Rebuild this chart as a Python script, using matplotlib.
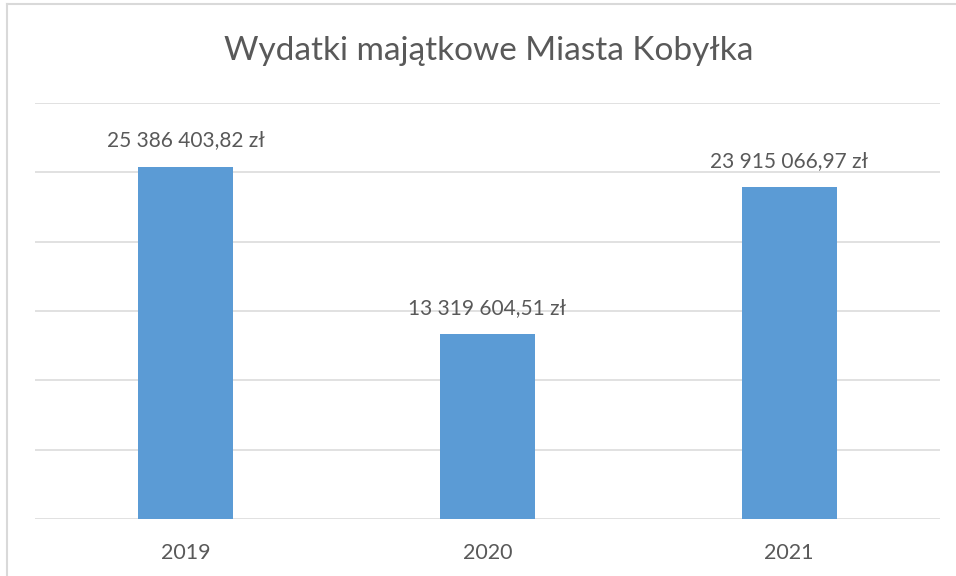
import matplotlib
matplotlib.use("Agg")
import matplotlib.pyplot as plt
from matplotlib.lines import Line2D

years = ["2019", "2020", "2021"]
values = [25386403.82, 13319604.51, 23915066.97]

def fmt_pl(v):
    s = f"{v:,.2f}"
    return s.replace(",", " ").replace(".", ",") + " zł"

plt.rcParams['font.family'] = ['Lato', 'DejaVu Sans']
text_color = "#595959"

fig = plt.figure(figsize=(9.56, 5.76), dpi=100)
W, H = 956, 576
ax = fig.add_axes([35 / W, (H - 519) / H, (940 - 35) / W, (519 - 103) / H])

x = list(range(len(years)))
bars = ax.bar(x, values, width=0.315, color="#5b9bd5", zorder=3)
ax.set_xlim(-0.5, 2.5)
ax.set_ylim(0, 30_000_000)
ax.set_yticks([i * 5_000_000 for i in range(7)])
ax.yaxis.grid(True, color="#d9d9d9", linewidth=1.1, zorder=0)
ax.tick_params(axis="y", left=False, labelleft=False)
ax.set_xticks(x)
ax.set_xticklabels(years, fontsize=15.5, color=text_color)
ax.tick_params(axis="x", length=0, pad=17)
for s in ax.spines.values():
    s.set_visible(False)

for xi, v in zip(x, values):
    ax.annotate(fmt_pl(v), (xi, v), xytext=(0, 19), textcoords="offset points",
                ha="center", va="center", fontsize=15, color=text_color)

fig.text(489 / W, 1 - 51 / H, "Wydatki majątkowe Miasta Kobyłka", ha="center", va="center",
         fontsize=24, color=text_color)

# chart-area border (top and left visible)
fig.add_artist(Line2D([6.5 / W, 6.5 / W], [0, 1 - 4 / H], transform=fig.transFigure,
                      color="#d9d9d9", linewidth=1.5))
fig.add_artist(Line2D([6.5 / W, 1], [1 - 4 / H, 1 - 4 / H], transform=fig.transFigure,
                      color="#d9d9d9", linewidth=1.5))

fig.savefig("out.png", dpi=100)
